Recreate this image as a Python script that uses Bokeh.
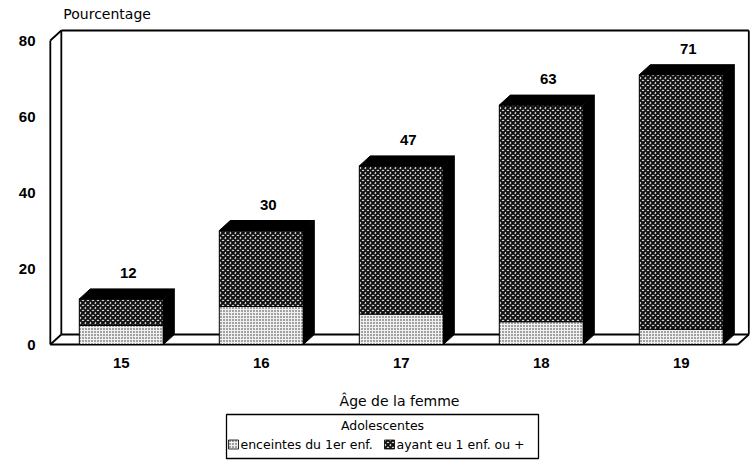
from bokeh.plotting import figure
from bokeh.models import ColumnDataSource, FixedTicker, Range1d
from bokeh.layouts import column
from bokeh.embed import file_html
from bokeh.resources import INLINE
from bokeh.core.properties import value

# ---- data ----
ages = ["15", "16", "17", "18", "19"]
enceintes = [5, 10, 8, 6, 4]          # enceintes du 1er enfant
ayant = [7, 20, 39, 57, 67]           # ayant eu 1 enfant ou +
y_ticks = [0, 20, 40, 60, 80]
series_names = ["enceintes du 1er enf.", "ayant eu 1 enf. ou +"]
legend_title = "Adolescentes"
x_title = "Âge de la femme"
y_title = "Pourcentage"

# ---- styling / geometry ----
FONT = "DejaVu Sans"
NUMFONT = "Liberation Sans"
W = 750
PX_X = 140.0           # pixels per category step
PX_Y = 3.8             # pixels per percent
DX = 11 / PX_X         # 3-D depth offset (x, data units)
DY = 10 / PX_Y         # 3-D depth offset (y, data units)
HW = 0.3               # half bar width
YMAX = y_ticks[-1]
LEFT = 48
X0 = -0.52
X1 = X0 + (W - LEFT) / PX_X
Y1 = YMAX + DY + 30 / PX_Y
Y0 = Y1 - 346 / PX_Y
LIGHT = dict(fill_color="#f0f0f0", hatch_pattern=".", hatch_color="#2a2a2a", hatch_scale=3.0, hatch_weight=1.0)
DARK = dict(fill_color="#e0e0e0", hatch_pattern="x", hatch_color="#111111", hatch_scale=5, hatch_weight=2.0)

pos = list(range(len(ages)))
tops = [a + b for a, b in zip(enceintes, ayant)]

p = figure(width=W, height=412, output_backend="svg", toolbar_location=None,
           x_range=Range1d(X0, X1), y_range=Range1d(Y0, Y1),
           min_border_left=LEFT, min_border_right=0, min_border_top=0, min_border_bottom=66)
p.grid.visible = False
p.outline_line_color = None
p.background_fill_color = "white"
p.border_fill_color = "white"

# ---- 3-D box frame ----
xl = -0.507
xr = X1 - 0.012 - DX
frame_xs = [
    [xl, xl], [xl, xl + DX], [xl, xl + DX],
    [xl + DX, xl + DX], [xl + DX, xr + DX], [xr + DX, xr + DX],
    [xl, xr], [xl + DX, xr + DX], [xr, xr + DX],
]
frame_ys = [
    [0, YMAX], [YMAX, YMAX + DY], [0, DY],
    [DY, YMAX + DY], [YMAX + DY, YMAX + DY], [DY, YMAX + DY],
    [0, 0], [DY, DY], [0, DY],
]
p.multi_line(xs=frame_xs, ys=frame_ys, line_color="black", line_width=1.8)

# ---- bars ----
src = ColumnDataSource(dict(
    x=pos,
    left=[c - HW for c in pos], right=[c + HW for c in pos],
    enc=enceintes, top=tops, zero=[0] * len(pos),
))
p.quad(left="left", right="right", bottom="zero", top="enc", source=src,
       line_color="black", line_width=1, **LIGHT)
p.quad(left="left", right="right", bottom="enc", top="top", source=src,
       line_color="black", line_width=1, **DARK)

top_xs = [[c - HW, c + HW, c + HW + DX, c - HW + DX] for c in pos]
top_ys = [[t, t, t + DY, t + DY] for t in tops]
side_xs = [[c + HW, c + HW + DX, c + HW + DX, c + HW] for c in pos]
side_ys = [[0, DY, t + DY, t] for t in tops]
p.patches(xs=top_xs + side_xs, ys=top_ys + side_ys, fill_color="black", line_color="black", line_width=1)

# ---- value labels ----
lab = ColumnDataSource(dict(x=[c + 0.05 for c in pos],
                            y=[t + DY + 16 / PX_Y for t in tops],
                            t=[str(t) for t in tops]))
p.text(x="x", y="y", text="t", source=lab, text_align="center", text_baseline="middle",
       text_font=value(NUMFONT), text_font_size="15px", text_font_style="bold", text_color="black")

# ---- y title ("Pourcentage") above the axis ----
p.text(x=[-0.414], y=[YMAX + DY + 17 / PX_Y], text=[y_title], text_align="left",
       text_baseline="middle", text_font=value(FONT), text_font_size="14px", text_color="black")

# ---- axes ----
p.xaxis.ticker = FixedTicker(ticks=pos)
p.xaxis.major_label_overrides = {c: a for c, a in zip(pos, ages)}
p.yaxis.ticker = FixedTicker(ticks=y_ticks)
for ax in (p.xaxis[0], p.yaxis[0]):
    ax.axis_line_color = None
    ax.major_tick_line_color = None
    ax.minor_tick_line_color = None
    ax.major_tick_out = 0
    ax.major_tick_in = 0
    ax.minor_tick_out = 0
    ax.major_label_text_font = NUMFONT
    ax.major_label_text_font_size = "15px"
    ax.major_label_text_font_style = "bold"
    ax.major_label_text_color = "black"
p.yaxis.major_label_standoff = 13
p.xaxis.major_label_standoff = 11
p.xaxis.axis_label = x_title
p.xaxis.axis_label_text_font = FONT
p.xaxis.axis_label_text_font_size = "14px"
p.xaxis.axis_label_text_font_style = "normal"
p.xaxis.axis_label_text_color = "black"
p.xaxis.axis_label_standoff = 22

# ---- legend (separate strip, x in page pixels) ----
q = figure(width=W, height=48, output_backend="svg", toolbar_location=None,
           x_range=Range1d(LEFT, W), y_range=Range1d(0, 48),
           x_axis_location=None, y_axis_location=None,
           min_border_left=LEFT, min_border_right=0, min_border_top=0, min_border_bottom=0)
q.grid.visible = False
q.outline_line_color = None
q.quad(left=[226], right=[538], bottom=[2], top=[46], fill_color=None,
       line_color="black", line_width=1.3)
q.text(x=[382], y=[35], text=[legend_title], text_align="center", text_baseline="middle",
       text_font=value(FONT), text_font_size="12.5px", text_color="black")
sw_left = [228, 384]
q.quad(left=[sw_left[0]], right=[sw_left[0] + 10], bottom=[11.5], top=[20.5],
       line_color="black", line_width=0.8, **LIGHT)
q.quad(left=[sw_left[1]], right=[sw_left[1] + 10], bottom=[11.5], top=[20.5],
       line_color="black", line_width=0.8, **DARK)
q.text(x=[s + 12 for s in sw_left], y=[16, 16], text=series_names, text_align="left",
       text_baseline="middle", text_font=value(FONT), text_font_size="12.5px", text_color="black")

layout = column(p, q, spacing=0)
open("out.html", "w").write(file_html(layout, INLINE))
